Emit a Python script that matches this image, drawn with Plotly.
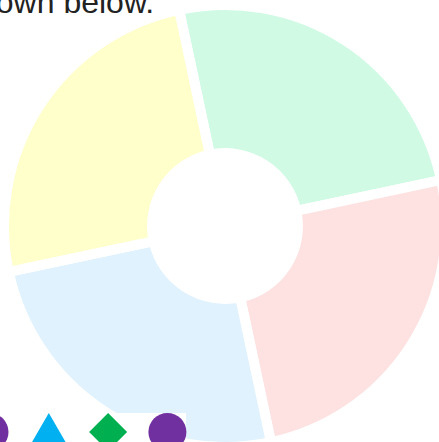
import plotly.graph_objects as go

# ---- data ----
slice_labels = ["Mint", "Rose", "Sky", "Lemon"]
slice_values = [25, 25, 25, 25]
slice_colors = ["#D1FAE5", "#FEE2E2", "#E0F2FE", "#FFFFCC"]

legend_symbols = ["circle", "triangle-up", "diamond", "circle"]
legend_colors = ["#7030A0", "#00B0F0", "#00B050", "#7030A0"]

caption_text = "shown below."

# ---- layout constants (pixels, page coordinates) ----
W, H = 450, 452        # slightly larger than the window: the pie overflows it
CX, CY = 225, 226      # pie centre (from top-left)
R = 221                # pie radius

def X(px):
    return px / W

def Y(py):
    return 1 - py / H

fig = go.Figure()
fig.add_trace(go.Pie(
    labels=slice_labels,
    values=slice_values,
    marker=dict(colors=slice_colors, line=dict(color="white", width=10)),
    hole=0.33,
    sort=False,
    direction="clockwise",
    rotation=-12,
    textinfo="none",
    hoverinfo="label+percent",
    showlegend=False,
    domain=dict(x=[max(0, X(CX - R)), min(1, X(CX + R))],
                y=[max(0, Y(CY + R)), min(1, Y(CY - R))]),
))

shapes = []
# legend background
shapes.append(dict(type="rect", xref="paper", yref="paper",
                   x0=X(0), x1=X(186), y0=Y(H), y1=Y(413),
                   fillcolor="white", line=dict(width=0), layer="above"))

LX0, LDX, LY, LS = -10.5, 59.3, 432, 19
for i, (sym, col) in enumerate(zip(legend_symbols, legend_colors)):
    cx = LX0 + i * LDX
    if sym == "circle":
        shapes.append(dict(type="circle", xref="paper", yref="paper",
                           x0=X(cx - LS), x1=X(cx + LS), y0=Y(LY + LS), y1=Y(LY - LS),
                           fillcolor=col, line=dict(width=0), layer="above"))
    elif sym == "triangle-up":
        top, bot, hw = LY - LS, LY - LS + 36, 20.8
        path = (f"M {X(cx)} {Y(top)} L {X(cx + hw)} {Y(bot)} "
                f"L {X(cx - hw)} {Y(bot)} Z")
        shapes.append(dict(type="path", xref="paper", yref="paper", path=path,
                           fillcolor=col, line=dict(width=0), layer="above"))
    elif sym == "diamond":
        path = (f"M {X(cx)} {Y(LY - LS)} L {X(cx + LS)} {Y(LY)} "
                f"L {X(cx)} {Y(LY + LS)} L {X(cx - LS)} {Y(LY)} Z")
        shapes.append(dict(type="path", xref="paper", yref="paper", path=path,
                           fillcolor=col, line=dict(width=0), layer="above"))

fig.update_layout(
    width=W, height=H,
    margin=dict(l=0, r=0, t=0, b=0),
    paper_bgcolor="white",
    plot_bgcolor="white",
    shapes=shapes,
    annotations=[dict(text=caption_text, xref="paper", yref="paper",
                      x=X(156), y=Y(1.7), xanchor="right", yanchor="middle",
                      showarrow=False,
                      font=dict(family="Liberation Sans, Arial", size=32, color="#222222"))],
)

fig.write_html(
    "out.html",
    config={"displayModeBar": False},
    post_script="document.body.style.margin='0';document.body.style.overflow='hidden';",
)
